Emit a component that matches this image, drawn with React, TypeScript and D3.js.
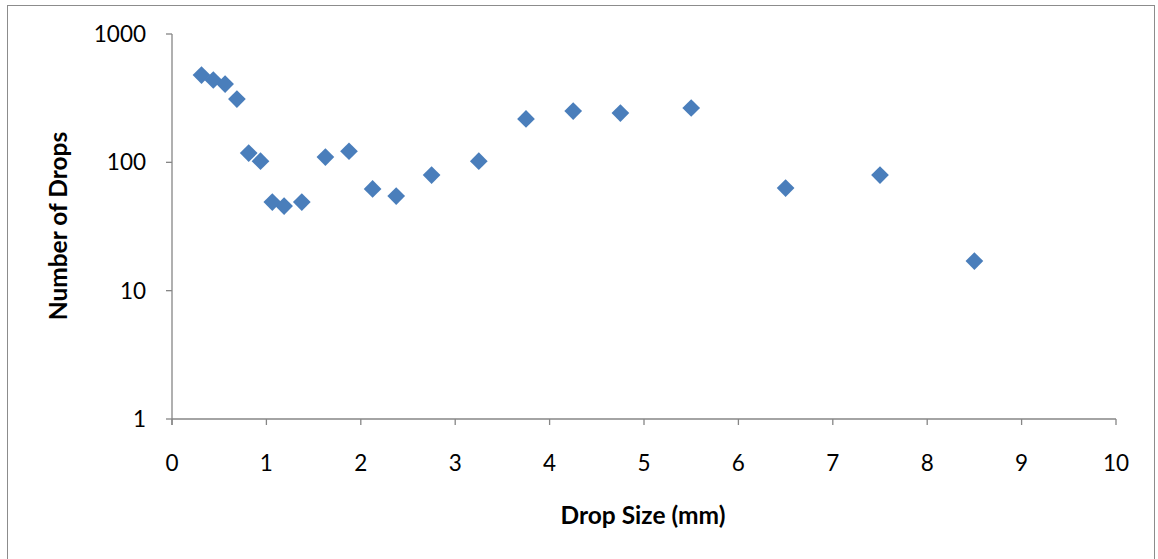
import React from "react";
import * as d3 from "d3";

const dropSize = [0.3125, 0.4375, 0.5625, 0.6875, 0.8125, 0.9375, 1.0625, 1.1875, 1.375, 1.625, 1.875, 2.125, 2.375, 2.75, 3.25, 3.75, 4.25, 4.75, 5.5, 6.5, 7.5, 8.5];
const dropCount = [479, 438, 407, 311, 118, 102, 49, 45.6, 49, 110, 122, 62, 54.6, 79.6, 102, 218, 251, 242, 265, 63, 79.6, 17];
const xTicks = [0, 1, 2, 3, 4, 5, 6, 7, 8, 9, 10];
const yTicks = [1, 10, 100, 1000];

const W = 1158;
const H = 559;
const left = 172;
const right = 1116;
const top = 34;
const bottom = 419;
const font = "Lato, 'Open Sans', sans-serif";

export default function App() {
  const x = d3.scaleLinear().domain([0, 10]).range([left, right]);
  const y = d3.scaleLog().domain([1, 1000]).range([bottom, top]);
  const diamond = d3.symbol().type(d3.symbolDiamond2).size(200)();
  const axisColor = "#868686";
  return (
    <svg width={W} height={H} style={{ position: "absolute", left: 0, top: 0, background: "#fff" }}>
      <rect x={7.5} y={5.5} width={1147} height={600} fill="none" stroke="#8c8c8c" strokeWidth={1} />
      <line x1={left} x2={left} y1={top} y2={bottom + 6} stroke={axisColor} strokeWidth={1.3} />
      <line x1={left} x2={right} y1={bottom} y2={bottom} stroke={axisColor} strokeWidth={1.3} />
      {yTicks.map((t) => (
        <g key={"y" + t}>
          <line x1={left - 6} x2={left} y1={y(t)} y2={y(t)} stroke={axisColor} strokeWidth={1.3} />
          <text x={146} y={y(t)} dy="0.35em" textAnchor="end" fontSize={22.5} fontFamily={font} fill="#000">
            {t}
          </text>
        </g>
      ))}
      {xTicks.map((t) => (
        <g key={"x" + t}>
          <line x1={x(t)} x2={x(t)} y1={bottom} y2={bottom + 6} stroke={axisColor} strokeWidth={1.3} />
          <text x={x(t)} y={463} dy="0.35em" textAnchor="middle" fontSize={22.5} fontFamily={font} fill="#000">
            {t}
          </text>
        </g>
      ))}
      <text x={643} y={515} dy="0.35em" textAnchor="middle" fontSize={24.5} fontWeight="bold" fontFamily={font} fill="#000">
        Drop Size (mm)
      </text>
      <text
        transform={`translate(58, 226) rotate(-90)`}
        dy="0.35em"
        textAnchor="middle"
        fontSize={24.5}
        fontWeight="bold"
        fontFamily={font}
        fill="#000"
      >
        Number of Drops
      </text>
      {dropSize.map((d, i) => (
        <path
          key={i}
          d={diamond ?? ""}
          transform={`translate(${x(d)}, ${y(dropCount[i])})`}
          fill="#4a7ebb"
        />
      ))}
    </svg>
  );
}
